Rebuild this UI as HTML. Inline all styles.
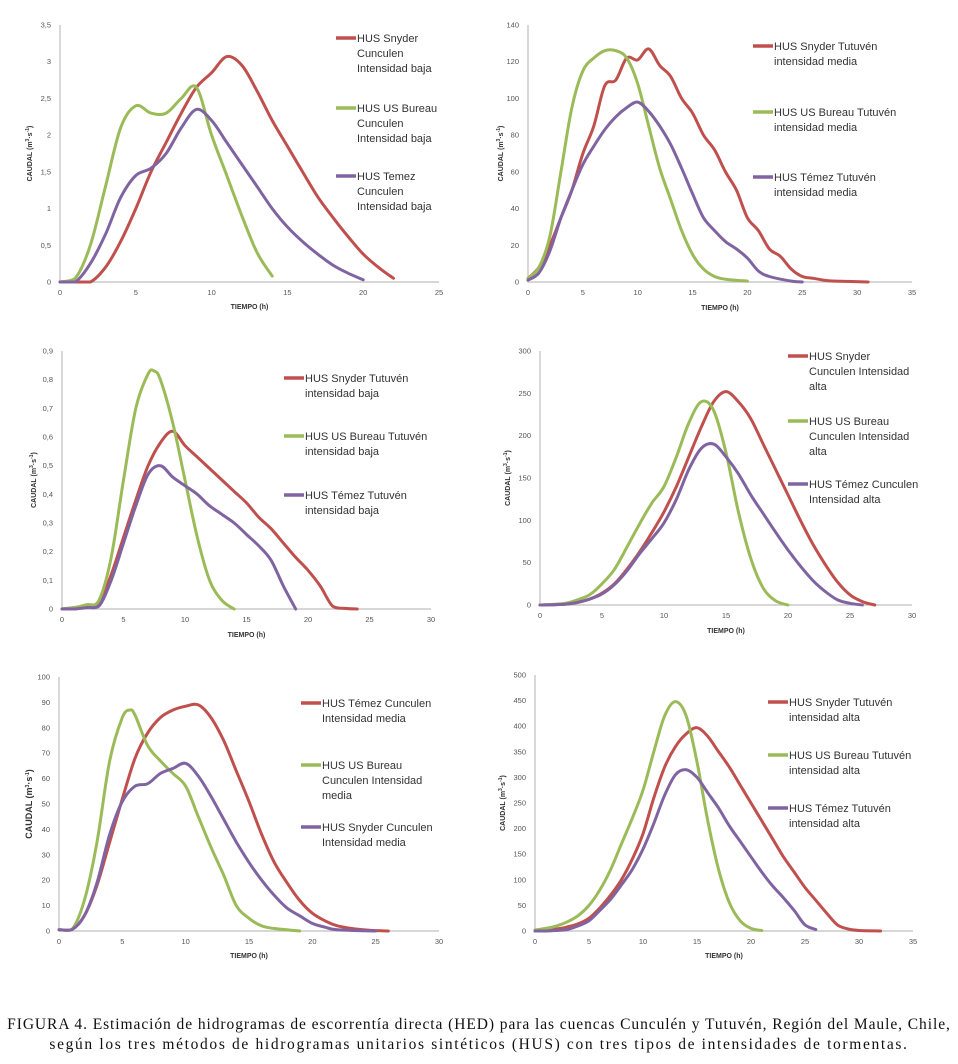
<!DOCTYPE html>
<html><head><meta charset="utf-8">
<style>
body{margin:0;background:#fff;width:958px;height:1064px;overflow:hidden;font-family:"Liberation Sans",sans-serif}
svg{position:absolute;left:0;top:0}
#cap{position:absolute;left:0;top:1015px;width:958px;text-align:center;font-family:"Liberation Serif",serif;font-size:15.5px;line-height:20px;color:#111;white-space:nowrap}
#cap span{display:block}
</style></head>
<body>
<svg id="chart" width="958" height="1064"></svg>
<div id="cap"><span style="letter-spacing:0.93px">FIGURA 4. Estimación de hidrogramas de escorrentía directa (HED) para las cuencas Cunculén y Tutuvén, Región del Maule, Chile,</span><span style="letter-spacing:1.65px">según los tres métodos de hidrogramas unitarios sintéticos (HUS) con tres tipos de intensidades de tormentas.</span></div>
<script>
// ---- data: [time h, caudal] ----
const p1Snyder=[[0,0],[1,0],[2,0],[3,0.2],[4,0.55],[5,1.0],[6,1.5],[7,1.9],[8,2.3],[9,2.65],[10,2.85],[11,3.07],[12,2.95],[13,2.6],[14,2.2],[15,1.85],[16,1.5],[17,1.16],[18,0.88],[19,0.62],[20,0.38],[21,0.2],[22,0.05]];
const p1Bureau=[[0,0],[1,0.05],[2,0.5],[3,1.3],[4,2.1],[5,2.4],[6,2.3],[7,2.3],[8,2.5],[9,2.65],[10,2.0],[11,1.45],[12,0.9],[13,0.4],[14,0.08]];
const p1Temez=[[0,0],[1,0],[2,0.25],[3,0.65],[4,1.15],[5,1.45],[6,1.55],[7,1.75],[8,2.1],[9,2.35],[10,2.2],[11,1.9],[12,1.6],[13,1.3],[14,1.0],[15,0.75],[16,0.55],[17,0.38],[18,0.23],[19,0.12],[20,0.03]];
const p2Snyder=[[0,2],[1,8],[2,20],[3,35],[4,50],[5,70],[6,85],[7,107],[8,110],[9,122],[10,121],[11,127],[12,118],[13,112],[14,100],[15,92],[16,80],[17,72],[18,60],[19,50],[20,35],[21,28],[22,18],[23,14],[24,7],[25,3],[26,2],[27,1],[28,0.5],[31,0]];
const p2Bureau=[[0,2],[1,8],[2,25],[3,60],[4,95],[5,115],[6,122],[7,126],[8,126],[9,122],[10,108],[11,85],[12,62],[13,45],[14,28],[15,15],[16,7],[17,3],[18,1.5],[20,0.5]];
const p2Temez=[[0,1],[1,5],[2,17],[3,35],[4,50],[5,64],[6,74],[7,83],[8,90],[9,95],[10,98],[11,93],[12,85],[13,75],[14,62],[15,48],[16,35],[17,28],[18,22],[19,18],[20,13],[21,6],[22,3],[24,0.5],[25,0]];
const p3Snyder=[[0,0],[1,0.005],[2,0.01],[3,0.02],[4,0.12],[5,0.25],[6,0.38],[7,0.5],[8,0.58],[9,0.62],[10,0.57],[11,0.53],[12,0.49],[13,0.45],[14,0.41],[15,0.37],[16,0.32],[17,0.28],[18,0.23],[19,0.18],[20,0.135],[21,0.08],[22,0.01],[23,0.002],[24,0]];
const p3Bureau=[[0,0],[1,0.005],[2,0.015],[3,0.03],[4,0.18],[5,0.45],[6,0.7],[7,0.82],[7.5,0.83],[8,0.8],[9,0.65],[10,0.45],[11,0.25],[12,0.1],[13,0.03],[14,0]];
const p3Temez=[[0,0],[1,0],[2,0.005],[3,0.01],[4,0.1],[5,0.23],[6,0.36],[7,0.47],[8,0.5],[9,0.46],[10,0.43],[11,0.4],[12,0.36],[13,0.33],[14,0.3],[15,0.26],[16,0.22],[17,0.17],[18,0.08],[19,0]];
const p4Snyder=[[0,0],[2,1],[3,3],[4,7],[5,14],[6,25],[7,42],[8,62],[9,85],[10,110],[11,140],[12,175],[13,210],[14,240],[15,252],[16,240],[17,220],[18,190],[19,160],[20,130],[21,100],[22,72],[23,48],[24,27],[25,12],[26,4],[27,0]];
const p4Bureau=[[0,0],[2,2],[3,6],[4,12],[5,25],[6,42],[7,68],[8,95],[9,120],[10,140],[11,175],[12,215],[13,240],[14,230],[15,180],[16,110],[17,55],[18,20],[19,5],[20,0]];
const p4Temez=[[0,0],[2,1],[3,3],[4,7],[5,13],[6,24],[7,40],[8,60],[9,78],[10,97],[11,125],[12,160],[13,185],[14,190],[15,175],[16,155],[17,130],[18,108],[19,86],[20,65],[21,46],[22,29],[23,16],[24,6],[25,2],[26,0]];
const p5Temez=[[0,0.5],[1,0.5],[2,6],[3,18],[4,35],[5,52],[6,68],[7,78],[8,84],[9,87],[10,88.5],[11,89],[12,84],[13,75],[14,63],[15,51],[16,38],[17,27],[18,19],[19,12],[20,7],[21,4],[22,2],[24,0.5],[26,0]];
const p5Bureau=[[0,0.5],[1,0.5],[2,12],[3,35],[4,67],[5,84],[5.6,87],[6,85],[7,73],[8,67],[9,62],[10,57],[11,45],[12,33],[13,22],[14,10],[15,5],[16,2],[17,1],[19,0]];
const p5Snyder=[[0,0.5],[1,0.5],[2,6],[3,19],[4,38],[5,51],[6,57],[7,58],[8,62],[9,64],[10,66],[11,61],[12,53],[13,44],[14,35],[15,27],[16,20],[17,14],[18,9],[19,6],[20,3],[21,1.5],[22,0.5],[25,0]];
const p6Snyder=[[0,0],[1,2],[2,4],[3,8],[4,14],[5,25],[6,45],[7,70],[8,100],[9,140],[10,190],[11,260],[12,320],[13,360],[14,385],[15,397],[16,380],[17,350],[18,320],[19,285],[20,250],[21,215],[22,180],[23,145],[24,115],[25,85],[26,60],[27,35],[28,12],[29,4],[30,1],[32,0]];
const p6Bureau=[[0,2],[1,5],[2,10],[3,18],[4,30],[5,50],[6,80],[7,120],[8,170],[9,220],[10,275],[11,350],[12,420],[13,448],[14,420],[15,330],[16,215],[17,120],[18,55],[19,20],[20,5],[21,1]];
const p6Temez=[[0,0],[1,0],[2,1],[3,3],[4,10],[5,20],[6,40],[7,62],[8,90],[9,120],[10,160],[11,210],[12,265],[13,305],[14,315],[15,300],[16,270],[17,240],[18,205],[19,175],[20,145],[21,115],[22,88],[23,65],[24,40],[25,12],[26,3]];
const p1YTicks=["0","0,5","1","1,5","2","2,5","3","3,5"];
const p2YTicks=["0","20","40","60","80","100","120","140"];
const p3YTicks=["0","0,1","0,2","0,3","0,4","0,5","0,6","0,7","0,8","0,9"];
const p4YTicks=["0","50","100","150","200","250","300"];
const p5YTicks=["0","10","20","30","40","50","60","70","80","90","100"];
const p6YTicks=["0","50","100","150","200","250","300","350","400","450","500"];

const RED="#c0504d",GREEN="#9bbb59",PURPLE="#8064a2";
const NS="http://www.w3.org/2000/svg";
const svg=document.getElementById('chart');
function mk(tag,attrs,parent){const e=document.createElementNS(NS,tag);for(const k in attrs)e.setAttribute(k,attrs[k]);(parent||svg).appendChild(e);return e;}

const panels=[
 {id:'p1',x0:60,x1:439,y0:282,y1:25,xmax:25,ymax:3.5,yt:p1YTicks,ylx:32,xty:309,lx:336,ly:[38,108,176],ylf:7,
  series:[[p1Snyder,RED,["HUS Snyder","Cunculen","Intensidad baja"]],[p1Bureau,GREEN,["HUS US Bureau","Cunculen","Intensidad baja"]],[p1Temez,PURPLE,["HUS Temez","Cunculen","Intensidad baja"]]]},
 {id:'p2',x0:528,x1:912,y0:282,y1:25,xmax:35,ymax:140,yt:p2YTicks,ylx:503,xty:310,lx:753,ly:[46,112,177],ylf:7,
  series:[[p2Snyder,RED,["HUS Snyder Tutuvén","intensidad media"]],[p2Bureau,GREEN,["HUS US Bureau Tutuvén","intensidad media"]],[p2Temez,PURPLE,["HUS Témez Tutuvén","intensidad media"]]]},
 {id:'p3',x0:62,x1:431,y0:609,y1:351,xmax:30,ymax:0.9,yt:p3YTicks,ylx:36,xty:637,lx:284,ly:[378,436,495],ylf:7,
  series:[[p3Snyder,RED,["HUS Snyder Tutuvén","intensidad baja"]],[p3Bureau,GREEN,["HUS US Bureau Tutuvén","intensidad baja"]],[p3Temez,PURPLE,["HUS Témez Tutuvén","intensidad baja"]]]},
 {id:'p4',x0:540,x1:912,y0:605,y1:351,xmax:30,ymax:300,yt:p4YTicks,ylx:510,xty:633,lx:788,ly:[356,421,484],ylf:7,
  series:[[p4Snyder,RED,["HUS Snyder","Cunculen Intensidad","alta"]],[p4Bureau,GREEN,["HUS US Bureau","Cunculen Intensidad","alta"]],[p4Temez,PURPLE,["HUS Témez Cunculen","Intensidad alta"]]]},
 {id:'p5',x0:59,x1:439,y0:931,y1:677,xmax:30,ymax:100,yt:p5YTicks,ylx:32,xty:958,lx:301,ly:[703,765,827],ylf:9,
  series:[[p5Temez,RED,["HUS Témez Cunculen","Intensidad media"]],[p5Bureau,GREEN,["HUS US Bureau","Cunculen Intensidad","media"]],[p5Snyder,PURPLE,["HUS Snyder Cunculen","Intensidad media"]]]},
 {id:'p6',x0:535,x1:913,y0:931,y1:675,xmax:35,ymax:500,yt:p6YTicks,ylx:505,xty:958,lx:768,ly:[702,755,808],ylf:7,
  series:[[p6Snyder,RED,["HUS Snyder Tutuvén","intensidad alta"]],[p6Bureau,GREEN,["HUS US Bureau Tutuvén","intensidad alta"]],[p6Temez,PURPLE,["HUS Témez Tutuvén","intensidad alta"]]]}
];

function smooth(pts,ymaxPix){
 let d=`M${pts[0][0].toFixed(1)},${pts[0][1].toFixed(1)}`;
 const cl=y=>Math.min(y,ymaxPix);
 for(let i=0;i<pts.length-1;i++){
  const p0=pts[Math.max(0,i-1)],p1=pts[i],p2=pts[i+1],p3=pts[Math.min(pts.length-1,i+2)];
  const c1=[p1[0]+(p2[0]-p0[0])/6,cl(p1[1]+(p2[1]-p0[1])/6)],c2=[p2[0]-(p3[0]-p1[0])/6,cl(p2[1]-(p3[1]-p1[1])/6)];
  d+=`C${c1[0].toFixed(1)},${c1[1].toFixed(1)} ${c2[0].toFixed(1)},${c2[1].toFixed(1)} ${p2[0].toFixed(1)},${p2[1].toFixed(1)}`;
 }
 return d;
}

panels.forEach(P=>{
 const g=mk('g',{});
 
 
 const sx=t=>P.x0+(P.x1-P.x0)*t/P.xmax;
 const sy=v=>P.y0-(P.y0-P.y1)*v/P.ymax;
 const ax=mk('path',{d:`M${P.x0},${P.y1}V${P.y0}H${P.x1}`,stroke:'#bfbfbf','stroke-width':1.2,fill:'none'},g);
 
 
 P.yt.forEach((lab,i)=>{
  const v=P.ymax*i/(P.yt.length-1);
  const t=mk('text',{x:P.x0-9,y:sy(v)+2.5,'text-anchor':'end','font-size':7.5,fill:'#555'},g);
  t.textContent=lab;
  
  
 });
 for(let v=0;v<=P.xmax;v+=5){
  const t=mk('text',{x:sx(v),y:P.y0+13,'text-anchor':'middle','font-size':7.5,fill:'#555'},g);
  t.textContent=String(v);
  
  
 }
 const xt=mk('text',{x:(P.x0+P.x1)/2,y:P.xty,'text-anchor':'middle','font-size':7,'font-weight':'bold',fill:'#333'},g);
 xt.textContent='TIEMPO (h)';
 
 
 const ym=(P.y0+P.y1)/2;
 const yt=mk('text',{x:P.ylx,y:ym,'text-anchor':'middle','font-size':P.ylf,'font-weight':'bold',fill:'#333',transform:`rotate(-90 ${P.ylx} ${ym})`},g);
 yt.innerHTML='CAUDAL (m<tspan font-size="5" dy="-3">3</tspan><tspan dy="3">·s</tspan><tspan font-size="5" dy="-3">-1</tspan><tspan dy="3">)</tspan>';
 
 
 P.series.forEach((s,k)=>{
  const pts=s[0].map(p=>[sx(p[0]),sy(p[1])]);
  const ln=mk('path',{d:smooth(pts,P.y0),stroke:s[1],'stroke-width':3,fill:'none','stroke-linejoin':'round','stroke-linecap':'round'},g);
  
  
  const lg=mk('g',{},g);
  
  
  const ly=P.ly[k];
  mk('line',{x1:P.lx,x2:P.lx+20,y1:ly,y2:ly,stroke:s[1],'stroke-width':3.5},lg);
  s[2].forEach((line,j)=>{
   const tt=mk('text',{x:P.lx+21,y:ly+4+j*15,'font-size':11,fill:'#333'},lg);
   tt.textContent=line;
  });
 });
});
</script>
</body></html>
